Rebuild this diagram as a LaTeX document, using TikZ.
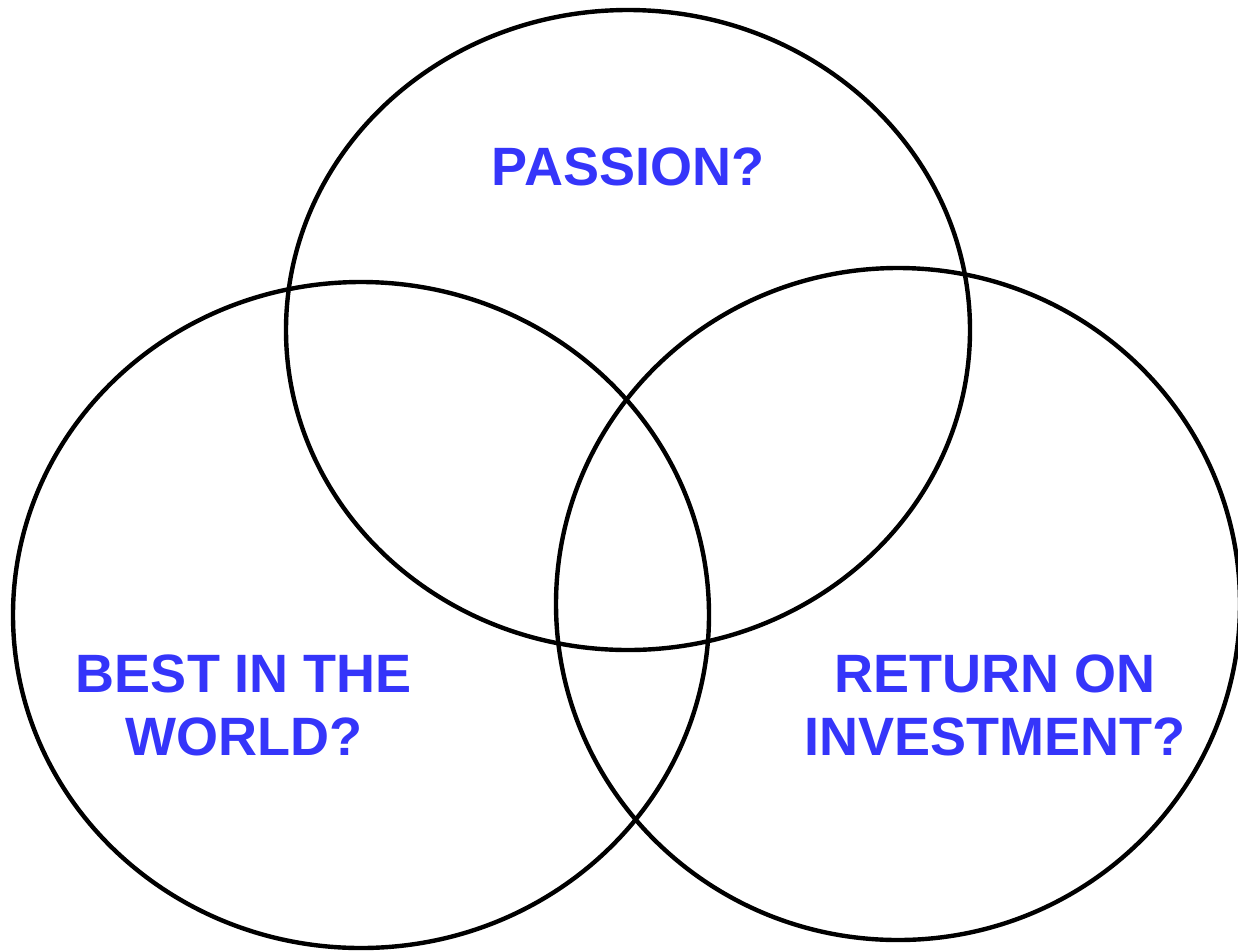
\documentclass[tikz,border=0pt]{standalone}
\usepackage{fontspec}
\setmainfont{Liberation Sans}
\definecolor{lblue}{HTML}{3535FA}
\begin{document}
\begin{tikzpicture}[x=1pt,y=-1pt,
  ring/.style={draw=black,line width=4.4pt},
  lbl/.style={text=lblue,font=\bfseries\fontsize{54}{63}\selectfont,align=center,inner sep=0pt}]
\useasboundingbox (0,0) rectangle (1238,951);
\draw[ring] (628,330) ellipse [x radius=342, y radius=320];
\draw[ring] (361,615) ellipse [x radius=348, y radius=333];
\draw[ring] (898,604) ellipse [x radius=342, y radius=336];
\node[lbl] (passion) at (628,167) {PASSION?};
\node[lbl] (best) at (244,705) {BEST IN THE\\WORLD?};
\node[lbl] (roi) at (995,705) {RETURN ON\\INVESTMENT?};
\end{tikzpicture}
\end{document}
